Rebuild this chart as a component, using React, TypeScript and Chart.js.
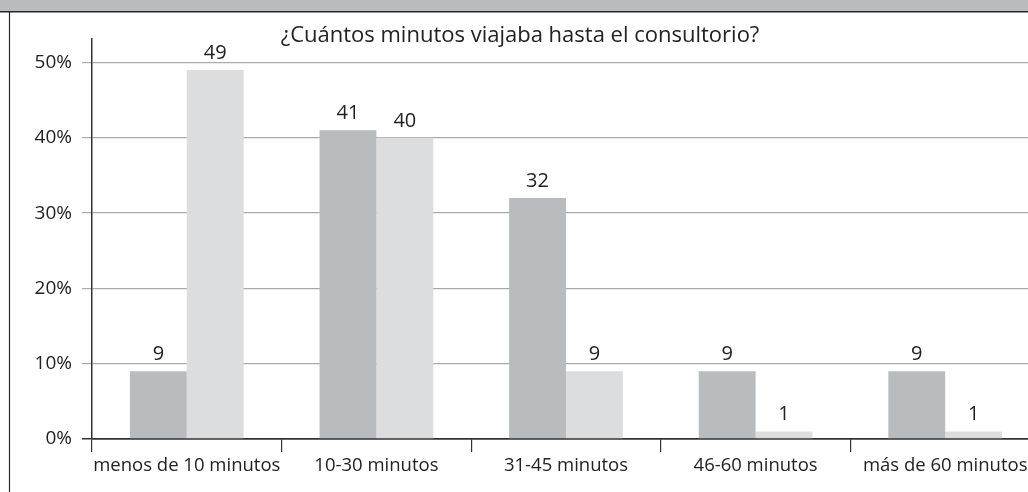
import { useEffect, useRef } from "react";
import { Chart, registerables } from "chart.js";
Chart.register(...registerables);

const categories = [
  "menos de 10 minutos",
  "10-30 minutos",
  "31-45 minutos",
  "46-60 minutos",
  "más de 60 minutos",
];
const seriesA = [9, 41, 32, 9, 9];
const seriesB = [49, 40, 9, 1, 1];
const yTickValues = [0, 10, 20, 30, 40, 50];
const titleText = "¿Cuántos minutos viajaba hasta el consultorio?";

const FONT = "'Open Sans', 'Noto Sans', sans-serif";

const framePlugin = {
  id: "frame",
  beforeDraw(chart: any) {
    const ctx = chart.ctx;
    ctx.save();
    ctx.fillStyle = "#ffffff";
    ctx.fillRect(0, 0, chart.width, chart.height);
    ctx.fillStyle = "#b9bbbe";
    ctx.fillRect(0, 0, chart.width, 11);
    ctx.strokeStyle = "#2a2a2a";
    ctx.lineWidth = 1.5;
    ctx.beginPath();
    ctx.moveTo(0, 11.75);
    ctx.lineTo(chart.width, 11.75);
    ctx.stroke();
    ctx.lineWidth = 1.2;
    ctx.beginPath();
    ctx.moveTo(9.5, 12);
    ctx.lineTo(9.5, chart.height);
    ctx.stroke();
    ctx.restore();
  },
};

const labelPlugin = {
  id: "valueLabels",
  afterDatasetsDraw(chart: any) {
    const ctx = chart.ctx;
    ctx.save();
    ctx.fillStyle = "#222";
    ctx.font = `20px ${FONT}`;
    ctx.textAlign = "center";
    ctx.textBaseline = "bottom";
    chart.data.datasets.forEach((ds: any, di: number) => {
      const meta = chart.getDatasetMeta(di);
      meta.data.forEach((bar: any, i: number) => {
        ctx.fillText(String(ds.data[i]), bar.x, bar.y - 7);
      });
    });
    ctx.restore();
  },
};

export default function App() {
  const ref = useRef<HTMLCanvasElement | null>(null);
  useEffect(() => {
    if (!ref.current) return;
    const chart = new Chart(ref.current, {
      type: "bar",
      data: {
        labels: categories,
        datasets: [
          {
            data: seriesA,
            backgroundColor: "#b9bcbf",
            barPercentage: 1,
            categoryPercentage: 0.6,
          },
          {
            data: seriesB,
            backgroundColor: "#dcdddf",
            barPercentage: 1,
            categoryPercentage: 0.6,
          },
        ],
      },
      options: {
        animation: false,
        responsive: true,
        maintainAspectRatio: false,
        layout: { padding: { left: 0, right: 6, top: 0, bottom: 0 } },
        plugins: {
          legend: { display: false },
          tooltip: { enabled: false },
          title: {
            display: true,
            text: titleText,
            color: "#222",
            font: { family: FONT, size: 22, weight: "normal" },
            padding: { top: 23, bottom: -11 },
          },
        },
        scales: {
          x: {
            offset: true,
            grid: {
              offset: true,
              drawOnChartArea: false,
              tickLength: 13,
              color: "#333",
              lineWidth: 1.2,
            },
            border: { color: "#333", width: 1.5 },
            ticks: {
              color: "#222",
              padding: 3,
              font: { family: FONT, size: 18.5 },
              maxRotation: 0,
              autoSkip: false,
            },
            afterFit(scale: any) {
              scale.height = 53;
            },
          },
          y: {
            min: 0,
            max: 53.2,
            ticks: {
              stepSize: 10,
              color: "#222",
              padding: 10,
              font: { family: FONT, size: 19 },
              callback: (v: any) => `${v}%`,
            },
            afterBuildTicks(scale: any) {
              scale.ticks = yTickValues.map((v) => ({ value: v }));
            },
            afterFit(scale: any) {
              scale.width = 92;
            },
            grid: {
              tickLength: 10,
              color: (c: any) => (c.tick && c.tick.value === 0 ? "#333" : "#aaaaaa"),
              lineWidth: (c: any) => (c.tick && c.tick.value === 0 ? 1.5 : 1.2),
            },
            border: { color: "#333", width: 1.5 },
          },
        },
      },
      plugins: [framePlugin, labelPlugin],
    });
    return () => chart.destroy();
  }, []);

  return (
    <div
      style={{
        position: "fixed",
        left: 0,
        top: 0,
        width: 1028,
        height: 492,
        overflow: "hidden",
        background: "#fff",
      }}
    >
      <div style={{ position: "relative", width: 1046, height: 492 }}>
        <canvas ref={ref} />
      </div>
    </div>
  );
}
